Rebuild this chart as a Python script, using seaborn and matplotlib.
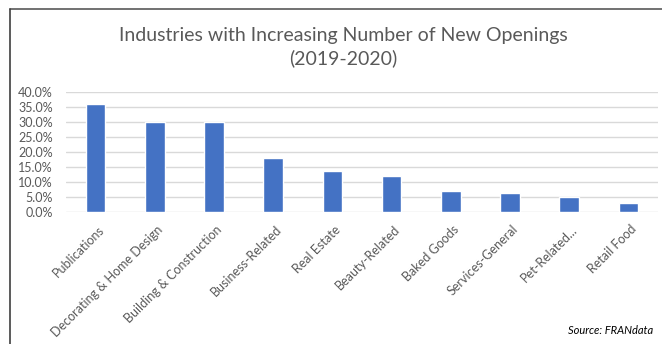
import matplotlib
matplotlib.use("Agg")
import matplotlib.pyplot as plt
import matplotlib.transforms as mtransforms
import seaborn as sns
import pandas as pd
from matplotlib.lines import Line2D
from matplotlib.ticker import PercentFormatter

industries = ["Publications", "Decorating & Home Design", "Building & Construction",
              "Business-Related", "Real Estate", "Beauty-Related", "Baked Goods",
              "Services-General", "Pet-Related...", "Retail Food"]
share = [0.359, 0.298, 0.298, 0.181, 0.137, 0.120, 0.072, 0.063, 0.050, 0.030]

df = pd.DataFrame({"industry": industries, "share": share})

sns.set_style("white")
plt.rcParams['font.family'] = ['Lato', 'DejaVu Sans']

fig = plt.figure(figsize=(6.62, 3.44), dpi=100)
ax = fig.add_axes([0.0997, 0.3828, 0.8943, 0.3506])

sns.barplot(data=df, x="industry", y="share", color="#4472C4", width=0.33,
            saturation=1, ax=ax, zorder=3)

ax.set_ylim(0, 0.4)
ax.set_yticks([i * 0.05 for i in range(9)])
ax.yaxis.set_major_formatter(PercentFormatter(1.0, decimals=1))
ax.grid(axis="y", color="#d9d9d9", linewidth=1, zorder=0)
for s in ax.spines.values():
    s.set_visible(False)
ax.set_xlabel("")
ax.set_ylabel("")
ax.tick_params(axis="both", length=0, labelcolor="#595959", labelsize=9)
ax.tick_params(axis="y", pad=9.4)
plt.setp(ax.get_xticklabels(), rotation=45, ha="right", rotation_mode="anchor")
shift = mtransforms.ScaledTranslation(2 / 100, -6 / 100, fig.dpi_scale_trans)
for lbl in ax.get_xticklabels():
    lbl.set_transform(lbl.get_transform() + shift)

fig.text(0.518, 0.862, "Industries with Increasing Number of New Openings\n(2019-2020)",
         ha="center", va="center", fontsize=14, color="#595959", linespacing=1.35)
fig.text(0.987, 0.04, "Source: FRANdata", ha="right", va="center",
         fontsize=8, style="italic", color="black")

# chart frame (top and left edges visible)
fig.add_artist(Line2D([10 / 662, 1], [1 - 9 / 344, 1 - 9 / 344],
                      transform=fig.transFigure, color="#595959", linewidth=1.2))
fig.add_artist(Line2D([10 / 662, 10 / 662], [0, 1 - 9 / 344],
                      transform=fig.transFigure, color="#404040", linewidth=1.2))

fig.savefig("out.png", dpi=100)
